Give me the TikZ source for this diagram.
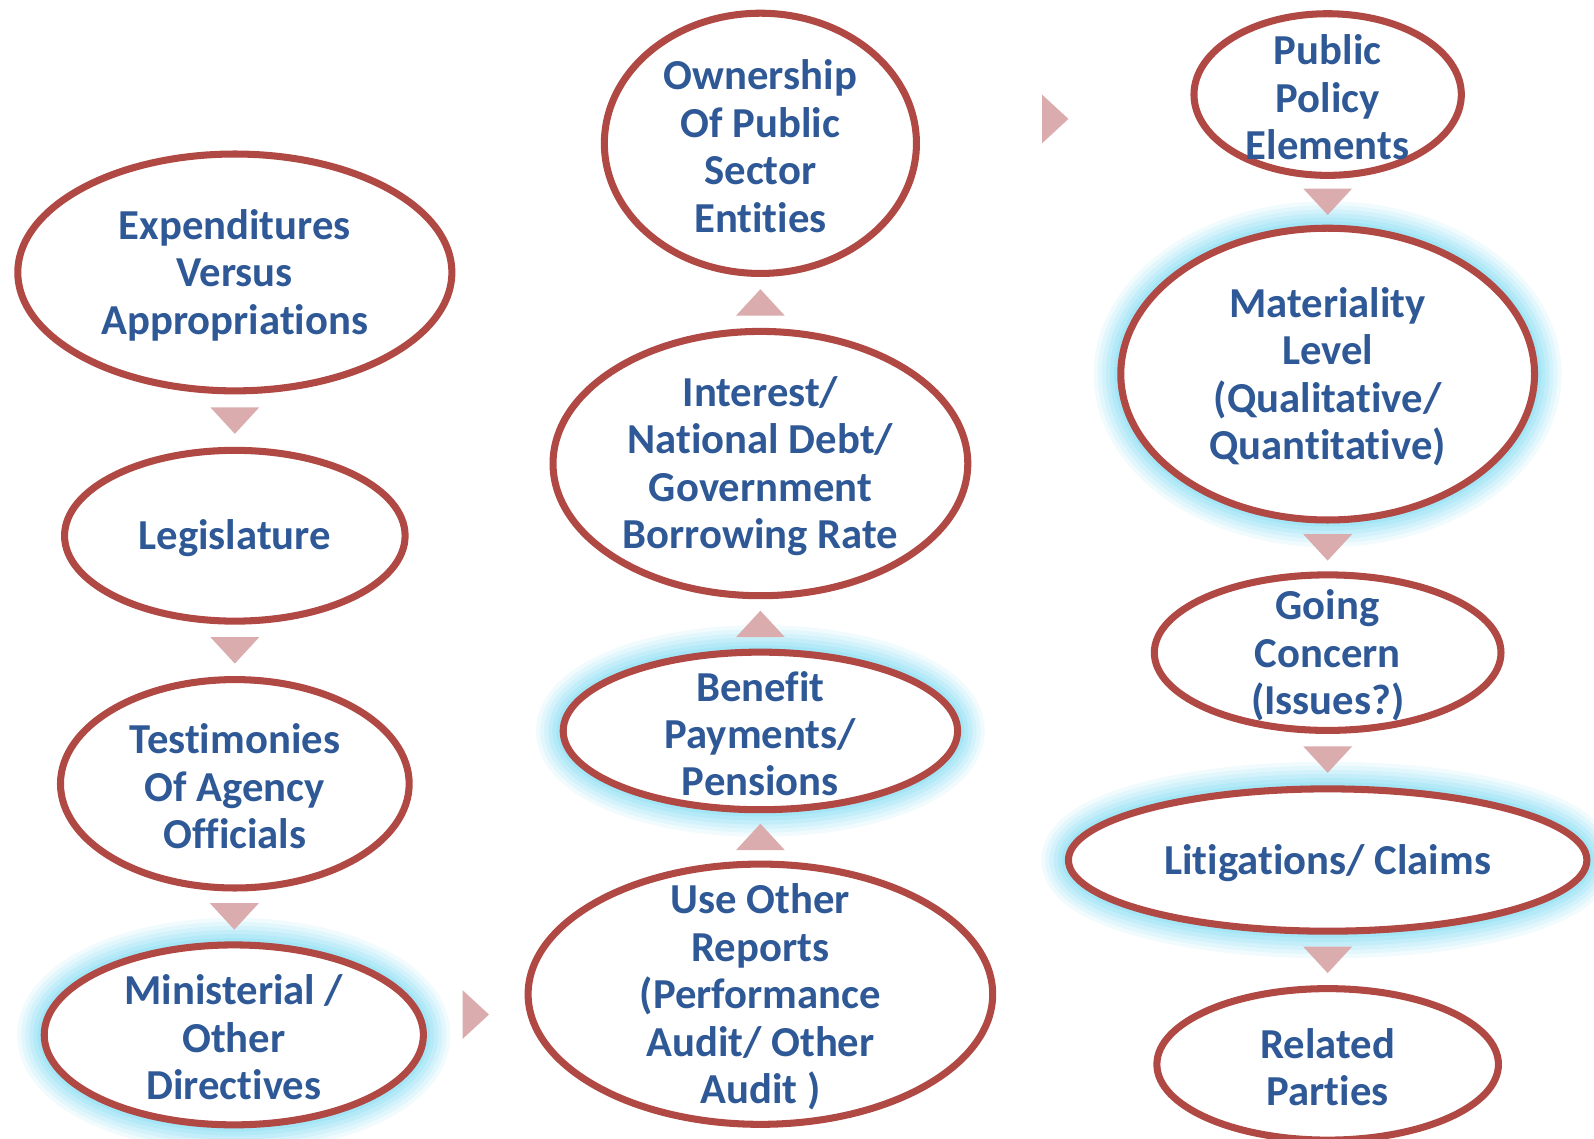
\documentclass[tikz,border=0pt]{standalone}
\usepackage{fontspec}
\setmainfont[Ligatures=NoCommon]{Carlito}
\usepackage{tikz}
\usetikzlibrary{shapes.geometric,calc}

\definecolor{ringred}{RGB}{176,72,68}
\definecolor{txtblue}{RGB}{46,88,150}
\definecolor{tripink}{RGB}{218,172,173}
\definecolor{glowcyan}{RGB}{140,222,244}

\tikzset{
  bubble/.style={ellipse,draw=ringred,line width=5.2pt,fill=white,inner sep=0pt},
  glowing/.style={
    preaction={draw=glowcyan,line width=40pt,draw opacity=0.12},
    preaction={draw=glowcyan,line width=34pt,draw opacity=0.15},
    preaction={draw=glowcyan,line width=28pt,draw opacity=0.18},
    preaction={draw=glowcyan,line width=22pt,draw opacity=0.22},
    preaction={draw=glowcyan,line width=16pt,draw opacity=0.28},
    preaction={draw=glowcyan,line width=10pt,draw opacity=0.4}},
  txt/.style={text=txtblue,align=center,inner sep=0pt,yshift=-2pt,font=\bfseries\fontsize{31.5}{35}\selectfont},
  tri/.style={fill=tripink}
}

\begin{document}
\begin{tikzpicture}[x=0.75pt,y=0.75pt,yscale=-1,xscale=1]
    \useasboundingbox (0,0) rectangle (1568,1120);

    % first column
    \node [bubble, minimum width=320.25pt, minimum height=174.75pt] (e1) at (231,268) {};
    \node [txt] (t1) at (e1) {Expenditures\\Versus\\Appropriations};
    \node [bubble, minimum width=251.25pt, minimum height=126pt] (e2) at (231,527) {};
    \node [txt] (t2) at (e2) {Legislature};
    \node [bubble, minimum width=257.25pt, minimum height=153.75pt] (e3) at (231,771) {};
    \node [txt] (t3) at (e3) {Testimonies\\Of Agency\\Officials};
    \node [bubble, glowing, minimum width=279.75pt, minimum height=132.75pt] (e4) at (230,1018) {};
    \node [txt] (t4) at (e4) {Ministerial /\\Other\\Directives};

    % second column
    \node [bubble, minimum width=342.75pt, minimum height=192pt] (e5) at (748,978) {};
    \node [txt] (t5) at (e5) {Use Other\\Reports\\(Performance\\Audit/ Other\\Audit )};
    \node [bubble, glowing, minimum width=291pt, minimum height=116.25pt] (e6) at (748,719) {};
    \node [txt] (t6) at (e6) {Benefit\\Payments/\\Pensions};
    \node [bubble, minimum width=306pt, minimum height=195pt] (e7) at (748,456) {};
    \node [txt] (t7) at (e7) {Interest/\\National Debt/\\Government\\Borrowing Rate};
    \node [bubble, minimum width=230.25pt, minimum height=192pt] (e8) at (748,141) {};
    \node [txt] (t8) at (e8) {Ownership\\Of Public\\Sector\\Entities};

    % third column
    \node [bubble, minimum width=197.25pt, minimum height=119.25pt] (e9) at (1306,93) {};
    \node [txt] (t9) at (e9) {Public\\Policy\\Elements};
    \node [bubble, glowing, minimum width=305.25pt, minimum height=215.25pt] (e10) at (1306,368) {};
    \node [txt] (t10) at (e10) {Materiality\\Level\\(Qualitative/\\Quantitative)};
    \node [bubble, minimum width=255.75pt, minimum height=114.75pt] (e11) at (1306,642) {};
    \node [txt] (t11) at (e11) {Going\\Concern\\(Issues?)};
    \node [bubble, glowing, minimum width=382.5pt, minimum height=105pt] (e12) at (1306,846) {};
    \node [txt] (t12) at (e12) {Litigations/ Claims};
    \node [bubble, minimum width=252pt, minimum height=111.75pt] (e13) at (1306,1047) {};
    \node [txt] (t13) at (e13) {Related\\Parties};

    % down arrows
    \fill [tri] ($(e1.south)!0.5!(e2.north)$) ++(-24,-13) -- ++(48,0) -- ++(-24,26) -- cycle;
    \fill [tri] ($(e2.south)!0.5!(e3.north)$) ++(-24,-13) -- ++(48,0) -- ++(-24,26) -- cycle;
    \fill [tri] ($(e3.south)!0.5!(e4.north)$) ++(-24,-13) -- ++(48,0) -- ++(-24,26) -- cycle;
    \fill [tri] ($(e9.south)!0.5!(e10.north)$) ++(-24,-13) -- ++(48,0) -- ++(-24,26) -- cycle;
    \fill [tri] ($(e10.south)!0.5!(e11.north)$) ++(-24,-13) -- ++(48,0) -- ++(-24,26) -- cycle;
    \fill [tri] ($(e11.south)!0.5!(e12.north)$) ++(-24,-13) -- ++(48,0) -- ++(-24,26) -- cycle;
    \fill [tri] ($(e12.south)!0.5!(e13.north)$) ++(-24,-13) -- ++(48,0) -- ++(-24,26) -- cycle;
    % up arrows
    \fill [tri] ($(e5.north)!0.5!(e6.south)$) ++(-24,13) -- ++(48,0) -- ++(-24,-26) -- cycle;
    \fill [tri] ($(e6.north)!0.5!(e7.south)$) ++(-24,13) -- ++(48,0) -- ++(-24,-26) -- cycle;
    \fill [tri] ($(e7.north)!0.5!(e8.south)$) ++(-24,13) -- ++(48,0) -- ++(-24,-26) -- cycle;
    % right arrows
    \fill [tri] ($(e4.east)!0.5!(e5.west)$) ++(-13,-24) -- ++(0,48) -- ++(26,-24) -- cycle;
    \fill [tri] ($(e8.east)!0.5!(e9.west)$) ++(-13,-24) -- ++(0,48) -- ++(26,-24) -- cycle;

\end{tikzpicture}
\end{document}
